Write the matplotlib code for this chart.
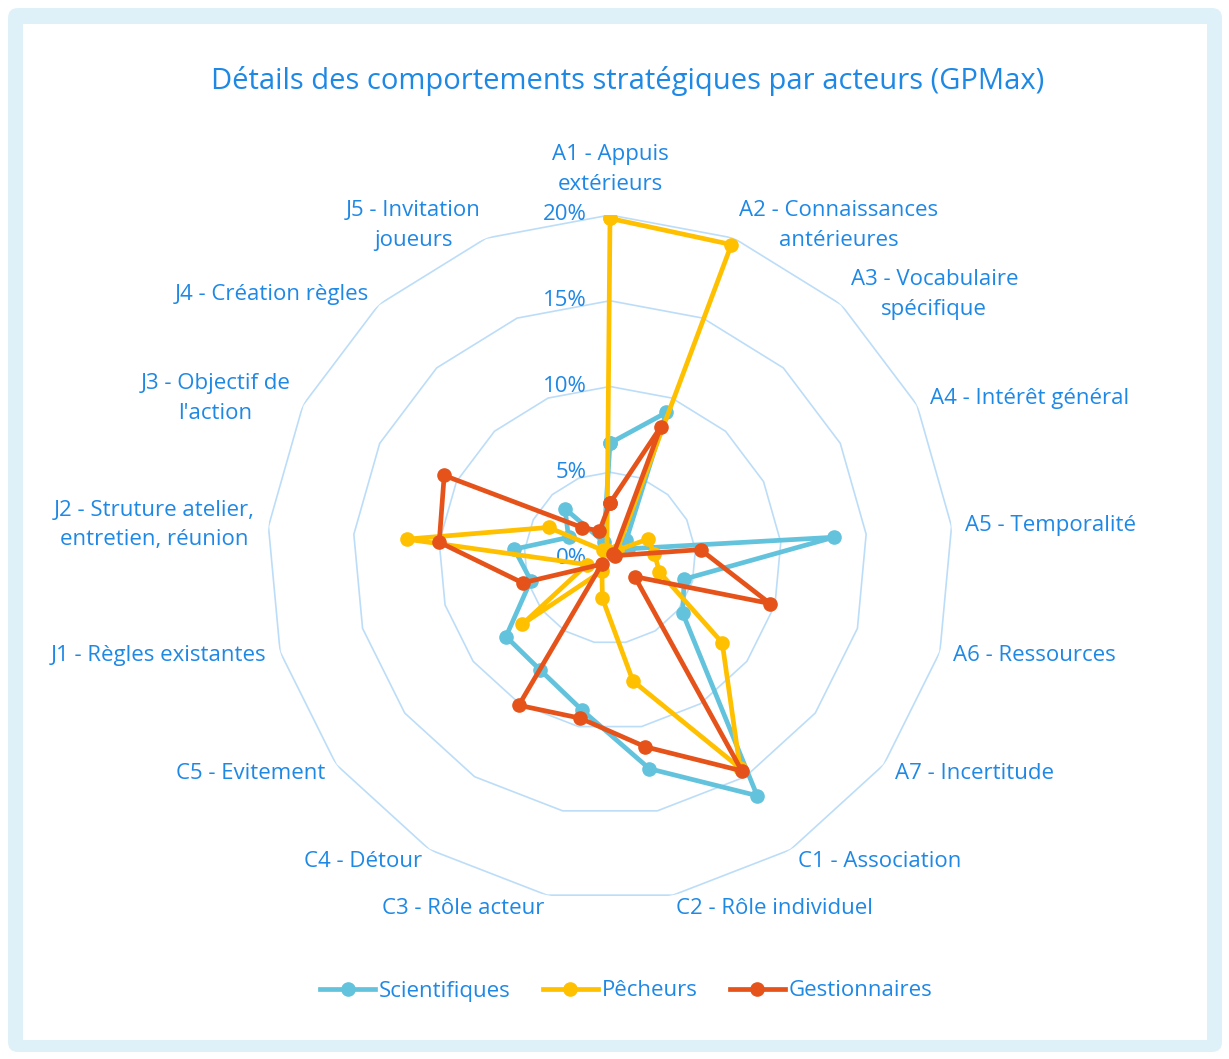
import numpy as np
import matplotlib
matplotlib.use("Agg")
import matplotlib.pyplot as plt
from matplotlib.patches import FancyBboxPatch
from matplotlib.transforms import IdentityTransform

# ---- data (percent of observed behaviours) ----
categories = [
    "A1 - Appuis\nextérieurs",
    "A2 - Connaissances\nantérieures",
    "A3 - Vocabulaire\nspécifique",
    "A4 - Intérêt général",
    "A5 - Temporalité",
    "A6 - Ressources",
    "A7 - Incertitude",
    "C1 - Association",
    "C2 - Rôle individuel",
    "C3 - Rôle acteur",
    "C4 - Détour",
    "C5 - Evitement",
    "J1 - Règles existantes",
    "J2 - Struture atelier,\nentretien, réunion",
    "J3 - Objectif de\nl'action",
    "J4 - Création règles",
    "J5 - Invitation\njoueurs",
]

scientifiques = [6.7, 9.1, 1.4, 1.2, 13.1, 4.5, 5.3, 16.3, 12.5, 9.0, 7.7, 7.6, 4.8, 5.6, 2.7, 3.9, 1.0]
pecheurs      = [19.8, 19.6, 0.6, 2.5, 2.6, 3.0, 8.2, 14.4, 7.3, 2.4, 0.9, 6.4, 1.4, 11.9, 4.0, 0.6, 0.5]
gestionnaires = [3.2, 8.2, 0.3, 0.3, 5.3, 9.7, 1.8, 14.6, 11.2, 9.5, 10.1, 0.6, 5.3, 10.0, 10.8, 2.4, 1.7]

series_names = ["Scientifiques", "Pêcheurs", "Gestionnaires"]
ring_values = [0, 5, 10, 15, 20]
tick_labels = ["0%", "5%", "10%", "15%", "20%"]

# ---- style ----
TEXT_BLUE = "#1E88E5"
GRID_BLUE = "#BCDDF8"
FRAME_BLUE = "#DFF1F8"
colors = ["#63C3DC", "#FFC000", "#E5531A"]
FONT = ["Open Sans", "DejaVu Sans"]
plt.rcParams["font.family"] = FONT
LABEL_SIZE = 16

W, H = 1229, 1059
fig = plt.figure(figsize=(W / 100, H / 100), dpi=100)
fig.patch.set_facecolor("white")

# rounded frame around the chart area (pixel coordinates)
outer = FancyBboxPatch((8, 7), 1214, 1044, boxstyle="round,pad=0,rounding_size=10",
                       transform=IdentityTransform(), facecolor=FRAME_BLUE,
                       edgecolor="none", zorder=-10)
inner = FancyBboxPatch((23, 19), 1184, 1016, boxstyle="square,pad=0",
                       transform=IdentityTransform(), facecolor="white",
                       edgecolor="none", zorder=-9)
fig.patches.extend([outer, inner])

# polar axes centred on the radar
cx, cy, R = 610, 558, 343
ax = fig.add_axes([(cx - R) / W, (H - cy - R) / H, 2 * R / W, 2 * R / H],
                  projection="polar")
ax.set_facecolor("none")
ax.set_theta_offset(np.pi / 2)
ax.set_theta_direction(-1)
ax.set_ylim(0, 20)
ax.grid(False)
ax.spines["polar"].set_visible(False)
ax.set_xticks([])
ax.set_yticks([])

n = len(categories)
angles = np.arange(n) * 2 * np.pi / n
closed = np.append(angles, angles[0])

# polygonal grid rings
for rv in ring_values[1:]:
    ax.plot(closed, [rv] * (n + 1), color=GRID_BLUE, lw=1.2, zorder=1)

# value labels along the first axis
for rv, lab in zip(ring_values, tick_labels):
    ax.annotate(lab, xy=(0, rv), xytext=(-23, 0), textcoords="offset pixels",
                ha="right", va="center", fontsize=LABEL_SIZE, color=TEXT_BLUE,
                annotation_clip=False, zorder=2)

# category labels just outside the outer ring
gap = 14
for ang, lab in zip(angles, categories):
    s, c = np.sin(ang), np.cos(ang)
    if s > 0.05:
        ha = "left"
    elif s < -0.05:
        ha = "right"
    else:
        ha = "center"
    va = "bottom" if c > 0.99 else "center"
    ax.annotate(lab, xy=(ang, 20), xytext=(gap * s, gap * c + (6 if va == "bottom" else 0)),
                textcoords="offset pixels", ha=ha, va=va, multialignment="center",
                fontsize=LABEL_SIZE, color=TEXT_BLUE, linespacing=1.55,
                annotation_clip=False)

# series
handles = []
for name, vals, col in zip(series_names, [scientifiques, pecheurs, gestionnaires], colors):
    v = np.append(vals, vals[0])
    h, = ax.plot(closed, v, color=col, lw=3.4, marker="o", markersize=9.5,
                 markerfacecolor=col, markeredgecolor=col, zorder=3,
                 solid_joinstyle="round", label=name)
    handles.append(h)

fig.text(628 / W, 1 - 81 / H, "Détails des comportements stratégiques par acteurs (GPMax)",
         ha="center", va="center", fontsize=21, color=TEXT_BLUE)

leg = fig.legend(handles=handles, loc="center", bbox_to_anchor=(626 / W, 1 - 991 / H),
                 ncol=3, frameon=False, fontsize=LABEL_SIZE, handlelength=2.5,
                 handletextpad=0.15, columnspacing=1.45)
for t in leg.get_texts():
    t.set_color(TEXT_BLUE)

fig.savefig("out.png", dpi=100, facecolor="white")
